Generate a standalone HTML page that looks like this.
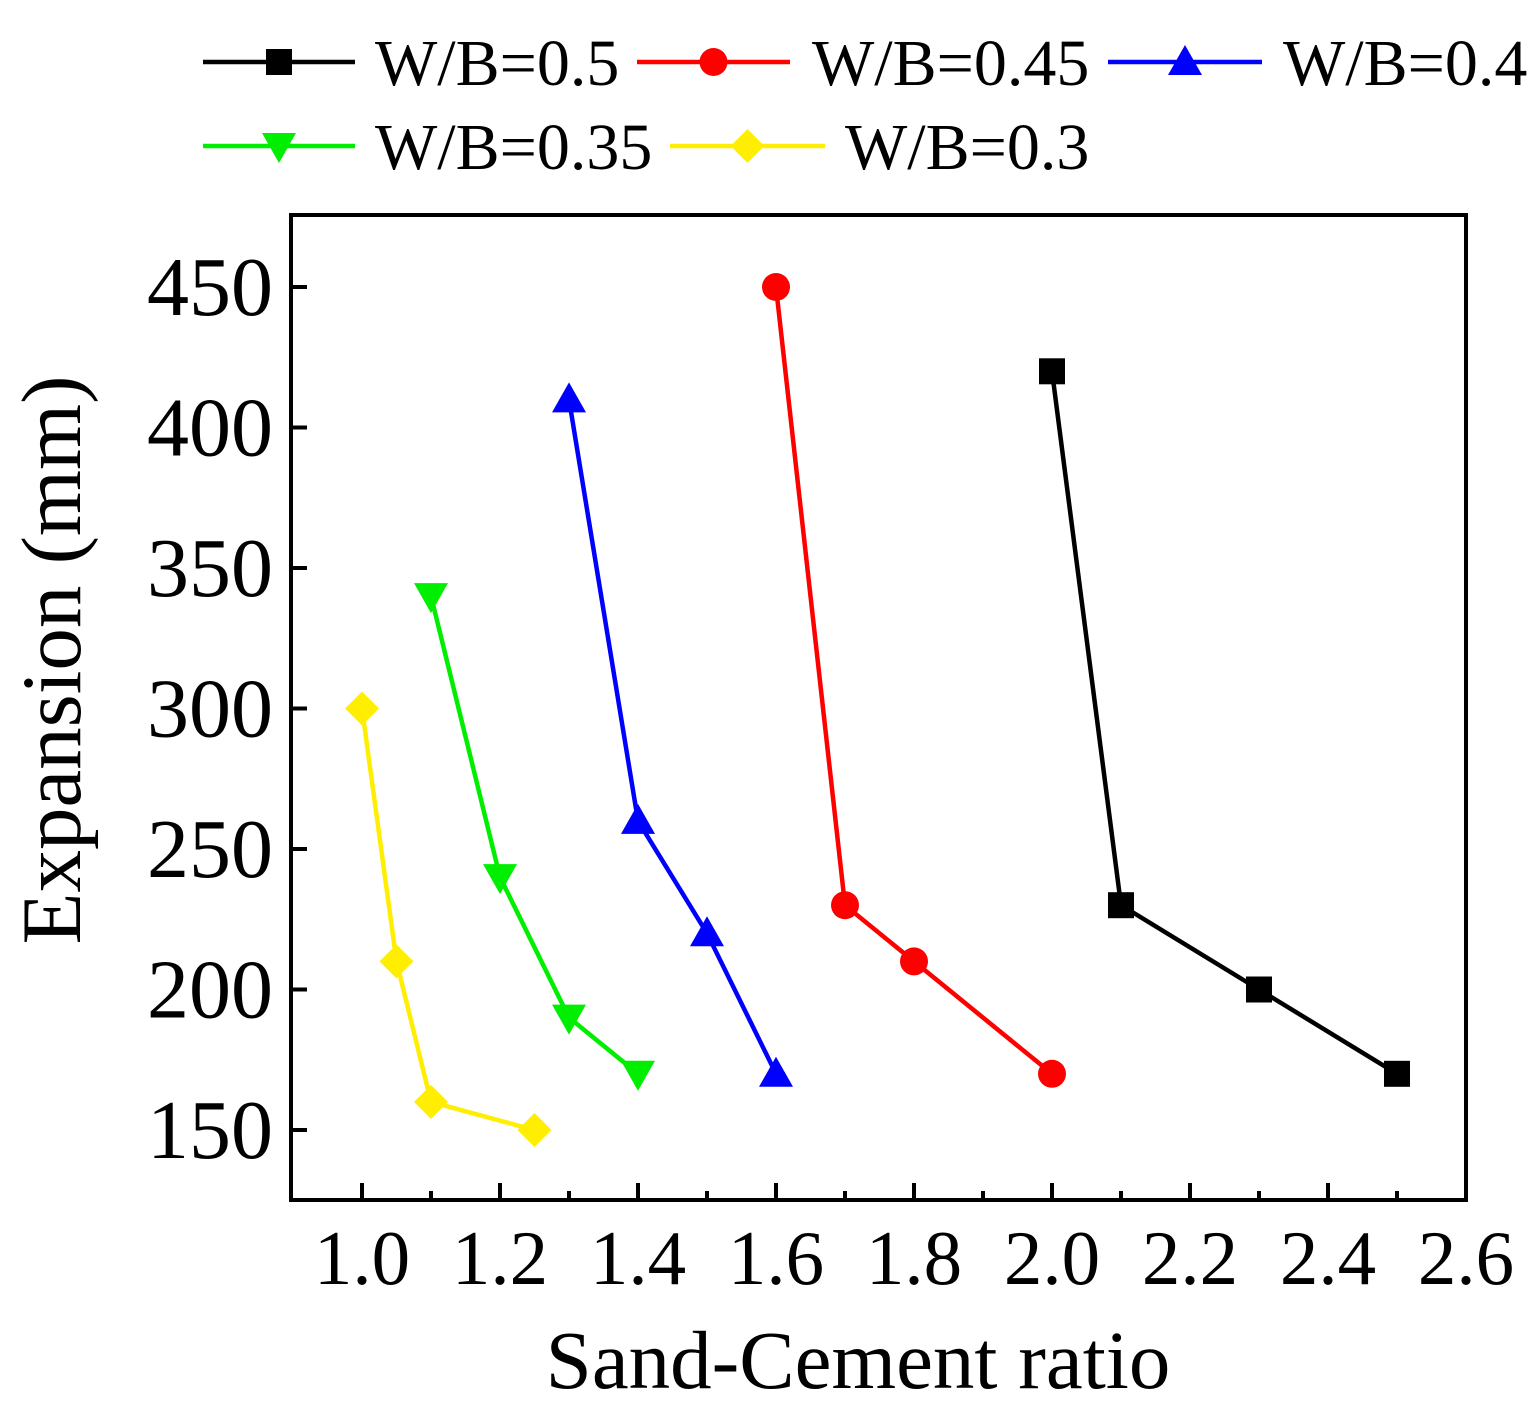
<!DOCTYPE html>
<html><head><meta charset="utf-8"><style>
html,body{margin:0;padding:0;background:#fff;}
svg{display:block;font-family:"Liberation Serif",serif;}
</style></head><body>
<svg id="chart" width="1540" height="1421" viewBox="0 0 1540 1421"></svg>
<script>
const categoriesLabel = ["W/B=0.5","W/B=0.45","W/B=0.4","W/B=0.35","W/B=0.3"];
const xBlack = [2.0,2.1,2.3,2.5];
const yBlack = [420,230,200,170];
const xRed = [1.6,1.7,1.8,2.0];
const yRed = [450,230,210,170];
const xBlue = [1.3,1.4,1.5,1.6];
const yBlue = [410,260,220,170];
const xGreen = [1.1,1.2,1.3,1.4];
const yGreen = [340,240,190,170];
const xYellow = [1.0,1.05,1.1,1.25];
const yYellow = [300,210,160,150];
const xTicks = ["1.0","1.2","1.4","1.6","1.8","2.0","2.2","2.4","2.6"];
const yTicks = ["150","200","250","300","350","400","450"];

const NS="http://www.w3.org/2000/svg";
const svg=document.getElementById('chart');
const L=291,R=1466,T=215,B=1200;
const X=v=>362+(v-1.0)*690;
const Y=v=>1130-(v-150)*(843/300);
function mk(tag,attrs,parent){const e=document.createElementNS(NS,tag);for(const k in attrs)e.setAttribute(k,attrs[k]);(parent||svg).appendChild(e);return e;}

const frame=mk('rect',{x:L,y:T,width:R-L,height:B-T,fill:'none',stroke:'#000','stroke-width':4});



for(let i=0;i<=16;i++){
  const v=1.0+i*0.1; const major=i%2===0; const x=X(v);
  const t=mk('line',{x1:x,x2:x,y1:B,y2:B-(major?17:9),stroke:'#000','stroke-width':4});
  
  
}
xTicks.forEach(s=>{
  const t=mk('text',{x:X(parseFloat(s)),y:1284,'font-size':77,'text-anchor':'middle',fill:'#000'});
  t.textContent=s;
  
  
});
for(let v=150;v<=450;v+=50){
  const y=Y(v);
  const t=mk('line',{x1:L,x2:L+16,y1:y,y2:y,stroke:'#000','stroke-width':4});
  
  
}
yTicks.forEach(s=>{
  const t=mk('text',{x:273,y:Y(parseFloat(s))+28,'font-size':84,'text-anchor':'end',fill:'#000'});
  t.textContent=s;
  
  
});
const xt=mk('text',{x:858,y:1388,'font-size':83,'text-anchor':'middle',fill:'#000'});
xt.textContent='Sand-Cement ratio';


const yt=mk('text',{x:0,y:0,'font-size':85,'text-anchor':'middle',fill:'#000',transform:'translate(80,660) rotate(-90)'});
yt.textContent='Expansion (mm)';



function marker(type,cx,cy,color,parent){
  const s=17;let e;
  if(type==='square') e=mk('rect',{x:cx-13,y:cy-13,width:26,height:26,fill:color},parent);
  else if(type==='circle') e=mk('circle',{cx:cx,cy:cy,r:14,fill:color},parent);
  else if(type==='up') e=mk('polygon',{points:`${cx},${cy-s} ${cx+s},${cy+13} ${cx-s},${cy+13}`,fill:color},parent);
  else if(type==='down') e=mk('polygon',{points:`${cx},${cy+s} ${cx+s},${cy-13} ${cx-s},${cy-13}`,fill:color},parent);
  else e=mk('polygon',{points:`${cx},${cy-s} ${cx+s},${cy} ${cx},${cy+s} ${cx-s},${cy}`,fill:color},parent);
  return e;
}
const series=[
 {name:'wb-0.5',xs:xBlack,ys:yBlack,color:'#000',m:'square'},
 {name:'wb-0.45',xs:xRed,ys:yRed,color:'#ff0000',m:'circle'},
 {name:'wb-0.4',xs:xBlue,ys:yBlue,color:'#0000ff',m:'up'},
 {name:'wb-0.35',xs:xGreen,ys:yGreen,color:'#00ee00',m:'down'},
 {name:'wb-0.3',xs:xYellow,ys:yYellow,color:'#ffee00',m:'diamond'}
];
series.forEach(s=>{
  const g=mk('g',{});
  
  
  const pts=s.xs.map((x,i)=>X(x)+','+Y(s.ys[i])).join(' ');
  const pl=mk('polyline',{points:pts,fill:'none',stroke:s.color,'stroke-width':4.5},g);
  
  
  s.xs.forEach((x,i)=>{
    const p=marker(s.m,X(x),Y(s.ys[i]),s.color,g);
    
    
  });
});
const leg=[[203,355,375,62],[637,790,812,62],[1108,1262,1283,62],[203,355,375,146],[670,825,845,146]];
series.forEach((s,i)=>{
  const [x1,x2,tx,y]=leg[i];
  const g=mk('g',{});
  
  
  mk('line',{x1:x1,x2:x2,y1:y,y2:y,stroke:s.color,'stroke-width':4.5},g);
  marker(s.m,(x1+x2)/2,y,s.color,g);
  const t=mk('text',{x:tx,y:y+23,'font-size':66,fill:'#000'},g);
  t.textContent=categoriesLabel[i];
});
</script>
</body></html>
